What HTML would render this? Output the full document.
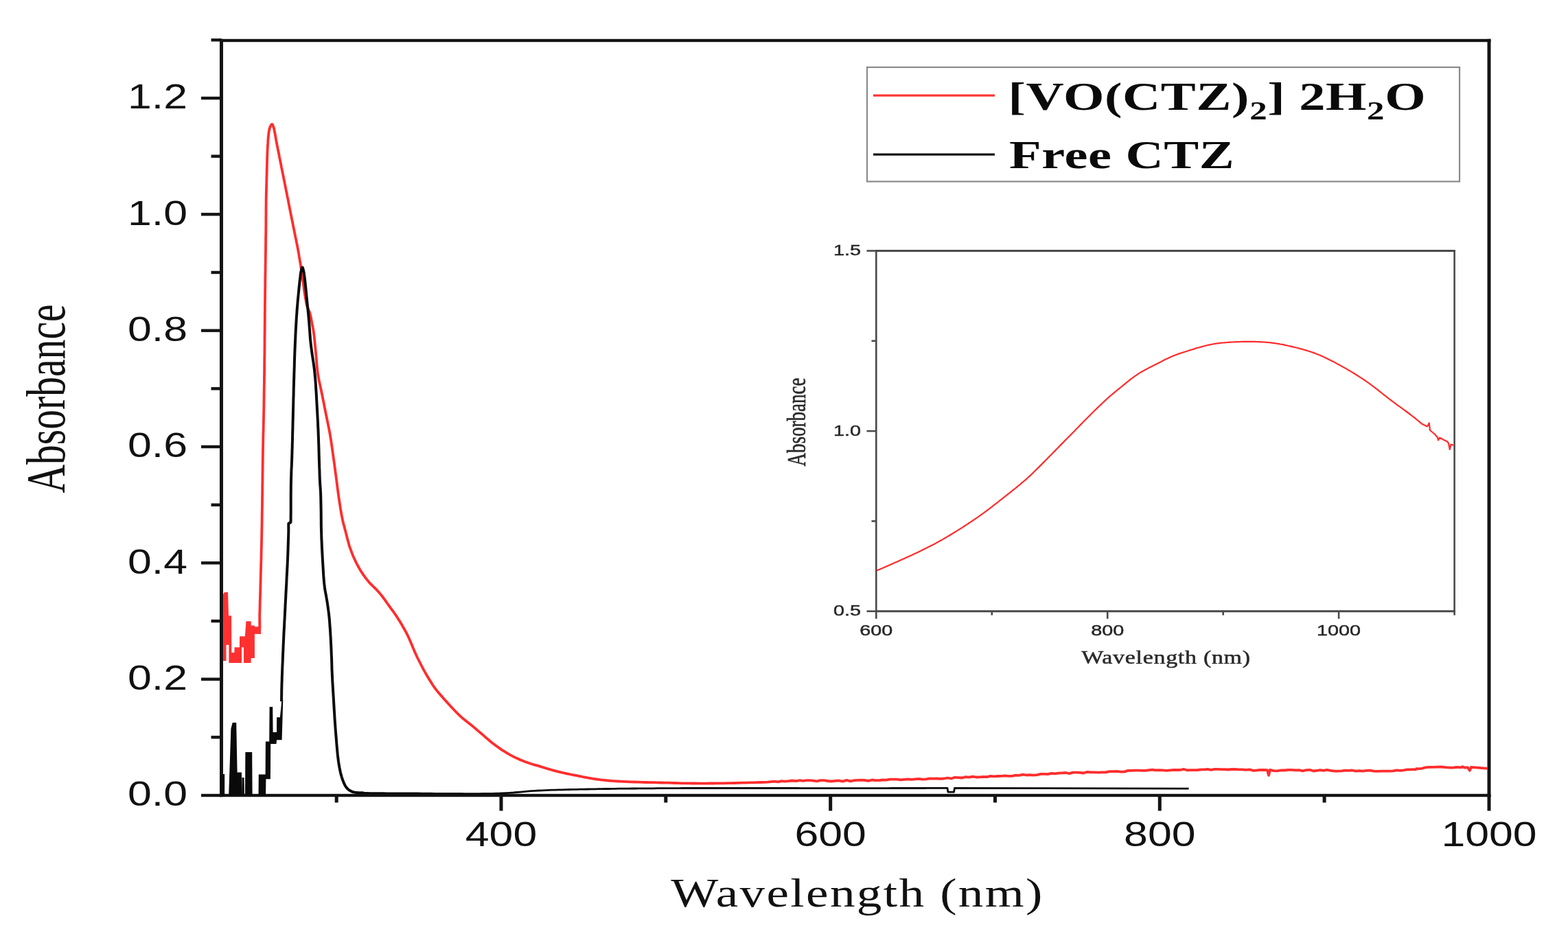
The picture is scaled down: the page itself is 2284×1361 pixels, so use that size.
<!DOCTYPE html>
<html><head><meta charset="utf-8"><title>UV-Vis absorbance spectra</title>
<style>html,body{margin:0;padding:0;background:#fff;}svg{display:block;}.sans{font-family:"Liberation Sans",Arial,sans-serif;}.serif{font-family:"Liberation Serif","Times New Roman",serif;}</style>
</head><body>
<svg width="2284" height="1361" viewBox="0 0 2284 1361">
<rect width="2284" height="1361" fill="#fff"/>
<g fill="#141414">
<rect x="320.0" y="56.8" width="1851.5" height="4.4"/>
<rect x="320.0" y="1156.8" width="1851.5" height="4.4"/>
<rect x="320.0" y="56.8" width="5" height="1104.4"/>
<rect x="2166.5" y="56.8" width="5" height="1104.4"/>
<rect x="293" y="1156.8" width="29.5" height="4.4"/>
<rect x="307.5" y="1072.1" width="15.0" height="4.4"/>
<rect x="293" y="987.5" width="29.5" height="4.4"/>
<rect x="307.5" y="902.8" width="15.0" height="4.4"/>
<rect x="293" y="818.1" width="29.5" height="4.4"/>
<rect x="307.5" y="733.5" width="15.0" height="4.4"/>
<rect x="293" y="648.8" width="29.5" height="4.4"/>
<rect x="307.5" y="564.1" width="15.0" height="4.4"/>
<rect x="293" y="479.5" width="29.5" height="4.4"/>
<rect x="307.5" y="394.8" width="15.0" height="4.4"/>
<rect x="293" y="310.1" width="29.5" height="4.4"/>
<rect x="307.5" y="225.5" width="15.0" height="4.4"/>
<rect x="293" y="140.8" width="29.5" height="4.4"/>
<rect x="307.5" y="56.1" width="15.0" height="4.4"/>
<rect x="487.7" y="1159.0" width="5" height="10.5"/>
<rect x="727.5" y="1159.0" width="5" height="22.5"/>
<rect x="967.3" y="1159.0" width="5" height="10.5"/>
<rect x="1207.2" y="1159.0" width="5" height="22.5"/>
<rect x="1447.0" y="1159.0" width="5" height="10.5"/>
<rect x="1686.8" y="1159.0" width="5" height="22.5"/>
<rect x="1926.6" y="1159.0" width="5" height="10.5"/>
<rect x="2166.5" y="1159.0" width="5" height="22.5"/>
</g>
<g class="sans" font-size="50.7" fill="#111">
<text transform="translate(273,1174.3) scale(1.235,1)" text-anchor="end">0.0</text>
<text transform="translate(273,1005.0) scale(1.235,1)" text-anchor="end">0.2</text>
<text transform="translate(273,835.6) scale(1.235,1)" text-anchor="end">0.4</text>
<text transform="translate(273,666.3) scale(1.235,1)" text-anchor="end">0.6</text>
<text transform="translate(273,497.0) scale(1.235,1)" text-anchor="end">0.8</text>
<text transform="translate(273,327.6) scale(1.235,1)" text-anchor="end">1.0</text>
<text transform="translate(273,158.3) scale(1.235,1)" text-anchor="end">1.2</text>
<text transform="translate(730.0,1232.8) scale(1.235,1)" text-anchor="middle">400</text>
<text transform="translate(1209.7,1232.8) scale(1.235,1)" text-anchor="middle">600</text>
<text transform="translate(1689.3,1232.8) scale(1.235,1)" text-anchor="middle">800</text>
<text transform="translate(2169.0,1232.8) scale(1.235,1)" text-anchor="middle">1000</text>
</g>
<text class="serif" font-size="60" fill="#111" transform="translate(1249,1321) scale(1.22,1)" text-anchor="middle" letter-spacing="1.94">Wavelength (nm)</text>
<text class="serif" font-size="57.6" fill="#111" transform="translate(93.8,581) rotate(-90) scale(1,1.38)" text-anchor="middle">Absorbance</text>
<polygon points="325.1,963.0 325.1,866.0 327.0,862.9 332.0,862.9 333.0,897.3 337.0,897.3 337.3,951.1 341.4,951.1 341.6,943.2 348.9,943.2 349.1,927.3 356.8,927.3 358.5,905.3 365.6,905.3 365.8,911.4 370.9,911.4 371.0,913.2 376.5,913.2 378.6,905.0 380.2,905.0 380.0,924.0 370.9,923.8 370.9,959.0 365.6,959.0 365.6,966.0 355.0,966.0 355.0,943.2 352.0,943.2 352.0,966.0 333.4,966.0 333.4,939.7 329.5,939.7 329.5,963.0" fill="#ff3030"/>
<polyline points="378.3,915.0 378.2,897.6 378.3,892.5 378.5,887.4 378.6,882.3 378.7,877.2 378.9,872.1 379.0,867.1 379.2,862.0 379.3,856.9 379.4,851.9 379.6,846.8 379.7,841.7 379.8,836.6 380.0,831.5 380.1,826.4 380.2,821.3 380.4,816.2 380.5,811.1 380.6,806.0 380.7,800.8 380.9,795.6 381.0,790.4 381.1,785.2 381.2,780.0 381.3,775.1 381.4,770.0 381.5,764.9 381.6,759.7 381.6,754.5 381.7,749.2 381.8,743.9 381.9,738.5 382.0,733.1 382.0,727.7 382.1,722.3 382.2,716.9 382.2,711.6 382.3,706.3 382.4,701.0 382.4,695.9 382.5,690.7 382.6,685.7 382.6,680.8 382.7,676.0 382.8,671.3 382.8,666.7 382.9,662.3 383.0,658.0 383.0,653.9 383.1,650.0 383.2,644.1 383.3,638.7 383.4,633.6 383.6,628.9 383.7,624.3 383.8,619.7 383.9,615.1 384.0,610.4 384.1,605.4 384.2,600.0 384.3,595.5 384.4,591.0 384.4,586.3 384.5,581.5 384.6,576.7 384.6,571.8 384.7,566.8 384.8,561.7 384.9,556.6 384.9,551.5 385.0,546.3 385.1,541.1 385.1,535.8 385.2,530.6 385.2,525.3 385.3,520.0 385.4,515.2 385.4,510.3 385.5,505.3 385.5,500.2 385.5,495.0 385.6,489.7 385.6,484.5 385.7,479.2 385.7,473.8 385.8,468.6 385.8,463.3 385.8,458.1 385.9,452.9 385.9,447.8 386.0,442.8 386.0,438.0 386.1,433.2 386.1,428.7 386.2,424.2 386.2,420.0 386.3,414.3 386.3,408.9 386.4,403.7 386.5,398.7 386.6,393.8 386.6,389.1 386.7,384.3 386.8,379.6 386.8,374.9 386.9,370.0 387.0,364.7 387.0,359.3 387.1,354.0 387.1,348.6 387.2,343.4 387.3,338.1 387.3,333.0 387.4,327.9 387.4,323.0 387.4,317.6 387.5,312.3 387.5,307.1 387.5,302.0 387.6,297.0 387.6,292.2 387.7,287.6 387.8,283.4 387.9,279.4 388.0,275.5 388.1,271.7 388.2,267.9 388.3,264.0 388.4,260.1 388.5,256.2 388.6,252.3 388.7,248.4 388.8,244.5 388.9,240.6 389.0,236.7 389.1,232.7 389.2,228.8 389.4,224.9 389.5,220.9 389.7,217.0 389.9,212.9 390.2,208.7 390.4,204.5 390.7,200.4 391.1,196.7 391.5,193.5 391.7,191.9 392.0,190.4 392.2,189.1 392.5,187.8 392.9,186.6 393.3,185.5 393.7,184.5 394.2,183.5 394.7,182.6 395.2,181.7 395.7,181.2 396.2,181.0 396.6,181.3 397.1,181.9 397.5,182.8 397.9,183.9 398.3,185.0 398.6,186.0 399.0,187.1 399.3,188.3 399.5,189.6 399.8,190.8 400.0,192.2 400.3,193.5 400.6,195.1 400.9,196.7 401.2,198.4 401.5,200.1 401.8,201.9 402.1,203.8 402.6,206.3 403.1,208.9 403.6,211.6 404.2,214.4 404.7,217.2 405.3,220.0 405.9,222.9 406.5,225.8 407.0,228.8 407.6,231.7 408.2,234.7 408.8,237.6 409.4,240.4 409.9,243.3 410.5,246.1 411.1,248.9 411.6,251.7 412.2,254.5 412.8,257.3 413.3,260.2 413.9,263.0 414.5,265.8 415.0,268.7 415.6,271.5 416.2,274.3 416.7,277.1 417.3,280.0 417.9,282.8 418.4,285.6 419.0,288.4 419.6,291.2 420.1,294.0 420.6,296.9 421.2,299.7 421.7,302.5 422.3,305.3 422.9,308.1 423.4,310.9 424.0,313.8 424.6,316.6 425.1,319.4 425.7,322.2 426.3,325.0 426.8,327.9 427.4,330.8 428.0,333.6 428.6,336.4 429.1,339.1 429.6,341.3 430.0,343.5 430.4,345.6 430.9,347.6 431.3,349.7 431.7,351.8 432.1,353.9 432.6,356.0 433.0,358.1 433.4,360.2 433.8,362.4 434.2,364.5 434.6,366.7 435.0,369.0 435.4,371.2 435.7,373.5 436.1,375.7 436.5,378.0 436.9,380.3 437.3,382.6 437.7,384.9 438.0,387.2 438.4,389.6 438.8,392.0 439.2,394.7 439.6,397.6 440.1,400.4 440.5,403.3 440.9,406.2 441.3,409.0 441.7,411.7 442.0,414.5 442.4,417.2 442.7,419.9 443.0,422.5 443.4,425.0 443.7,427.1 444.0,429.2 444.4,431.2 444.7,433.1 445.0,435.1 445.4,437.0 445.7,438.7 446.0,440.5 446.3,442.1 446.7,443.8 447.0,445.4 447.5,447.0 448.0,448.4 448.6,449.6 449.2,450.9 449.8,452.2 450.4,453.5 451.0,455.0 451.6,457.2 452.2,459.7 452.8,462.3 453.3,464.9 453.8,467.5 454.3,470.0 454.7,472.1 455.2,474.1 455.6,476.1 455.9,478.1 456.3,480.4 456.7,482.8 457.3,487.2 457.9,492.1 458.4,497.4 458.9,502.9 459.5,508.4 460.0,513.7 460.5,518.8 460.9,523.9 461.3,529.0 461.7,534.0 462.2,539.1 462.9,544.1 463.7,549.0 464.6,554.0 465.7,558.8 466.7,563.7 467.8,568.6 468.8,573.5 469.8,578.4 470.8,583.3 471.8,588.2 472.7,593.1 473.7,598.0 474.7,602.9 475.7,607.8 476.7,612.7 477.7,617.6 478.7,622.6 479.7,627.5 480.6,632.4 481.4,637.3 482.2,642.1 482.9,646.9 483.6,651.7 484.3,656.7 485.0,661.8 485.7,667.0 486.5,672.5 487.3,678.1 488.0,683.8 488.8,689.4 489.5,694.8 490.2,700.0 490.8,704.8 491.4,709.5 492.0,714.0 492.6,718.5 493.2,723.0 493.9,727.5 494.6,732.1 495.3,736.8 496.0,741.5 496.8,746.1 497.6,750.7 498.5,755.1 499.3,758.9 500.2,762.7 501.2,766.3 502.1,769.9 503.1,773.5 504.0,777.1 504.9,780.5 505.7,783.9 506.6,787.3 507.5,790.6 508.4,794.0 509.5,797.3 510.7,800.7 512.0,804.2 513.3,807.6 514.7,811.0 516.2,814.3 517.7,817.5 519.1,820.4 520.6,823.2 522.1,826.0 523.6,828.7 525.2,831.4 526.9,834.0 528.6,836.6 530.4,839.1 532.2,841.6 534.1,844.1 536.0,846.4 537.9,848.7 539.7,850.7 541.6,852.5 543.4,854.3 545.3,856.1 547.1,857.9 548.9,859.7 550.5,861.5 552.1,863.3 553.6,865.1 555.1,866.9 556.6,868.8 558.1,870.7 559.7,872.8 561.2,874.9 562.7,877.1 564.2,879.3 565.8,881.4 567.3,883.6 568.8,885.7 570.4,887.8 571.9,889.9 573.5,892.0 575.0,894.2 576.5,896.4 578.1,898.8 579.6,901.2 581.2,903.6 582.7,906.1 584.2,908.6 585.7,911.1 587.2,913.8 588.8,916.5 590.3,919.2 591.8,922.0 593.3,924.9 594.8,928.0 596.6,932.0 598.4,936.2 600.3,940.6 602.1,945.1 604.0,949.6 606.0,954.0 608.1,958.5 610.4,963.0 612.7,967.5 615.0,972.0 617.3,976.4 619.7,980.6 621.8,984.3 624.0,988.0 626.2,991.6 628.4,995.1 630.6,998.5 632.9,1001.8 635.0,1004.6 637.2,1007.4 639.4,1010.0 641.6,1012.6 643.9,1015.1 646.1,1017.7 648.3,1020.2 650.5,1022.6 652.7,1025.1 654.9,1027.5 657.1,1029.9 659.3,1032.2 661.5,1034.5 663.6,1036.7 665.8,1039.0 668.0,1041.2 670.3,1043.3 672.5,1045.4 674.7,1047.3 676.9,1049.0 679.1,1050.8 681.3,1052.5 683.6,1054.2 685.8,1056.0 688.1,1057.9 690.5,1059.9 692.8,1061.9 695.1,1063.9 697.5,1065.9 700.0,1068.0 702.8,1070.4 705.7,1072.9 708.6,1075.5 711.6,1078.0 714.5,1080.5 717.5,1082.9 720.4,1085.1 723.3,1087.2 726.2,1089.3 729.1,1091.4 732.0,1093.3 735.0,1095.2 737.9,1097.0 740.8,1098.7 743.7,1100.3 746.6,1101.9 749.5,1103.4 752.5,1104.8 755.4,1106.1 758.3,1107.4 761.2,1108.5 764.1,1109.7 767.1,1110.8 770.0,1111.8 772.9,1112.8 775.8,1113.7 778.8,1114.6 781.7,1115.4 784.7,1116.2 787.6,1117.1 790.5,1118.0 793.4,1118.9 796.3,1119.8 799.3,1120.6 802.2,1121.5 805.1,1122.3 808.0,1123.1 810.9,1123.9 813.8,1124.6 816.8,1125.3 819.7,1126.0 822.6,1126.7 825.5,1127.3 828.4,1127.9 831.3,1128.5 834.3,1129.1 837.2,1129.6 840.1,1130.2 843.0,1130.8 845.9,1131.4 848.8,1132.0 851.8,1132.6 854.7,1133.2 857.6,1133.7 860.5,1134.2 863.3,1134.7 866.1,1135.1 869.0,1135.5 872.0,1135.9 875.1,1136.3 878.9,1136.7 882.6,1137.1 886.5,1137.5 890.6,1137.9 895.1,1138.2 900.0,1138.5 904.2,1138.7 908.8,1138.9 913.7,1139.1 918.9,1139.3 924.4,1139.5 930.0,1139.7 935.7,1139.8 941.4,1140.0 947.0,1140.1 952.5,1140.2 957.8,1140.4 962.9,1140.5 967.6,1140.6 973.1,1140.7 978.3,1140.9 983.2,1141.0 988.0,1141.2 992.8,1141.3 997.6,1141.4 1002.5,1141.4 1007.6,1141.5 1012.7,1141.5 1017.8,1141.6 1022.9,1141.6 1028.1,1141.6 1033.4,1141.5 1038.7,1141.5 1044.1,1141.4 1049.5,1141.4 1055.0,1141.3 1060.0,1141.2 1065.2,1141.1 1070.4,1141.0 1075.7,1140.9 1081.0,1140.7 1086.3,1140.6 1091.7,1140.4 1097.0,1140.3 1102.3,1140.1 1107.5,1140.0 1112.7,1139.8 1118.0,1139.6 1123.2,1139.1 1128.2,1138.6 1133.3,1139.3 1138.3,1138.1 1143.4,1138.7 1148.6,1138.2 1153.9,1137.5 1159.5,1138.1 1165.2,1137.2 1169.9,1137.8 1174.8,1137.1 1179.7,1137.1 1184.7,1137.6 1189.8,1138.3 1195.0,1137.1 1200.3,1137.2 1205.7,1138.0 1211.1,1138.5 1216.5,1137.9 1222.0,1137.5 1227.6,1138.6 1233.1,1136.9 1238.7,1138.3 1244.4,1137.2 1250.0,1136.9 1254.9,1136.7 1259.9,1137.0 1264.9,1137.8 1270.0,1136.5 1275.1,1137.2 1280.3,1137.1 1285.5,1136.5 1290.7,1136.7 1296.0,1135.7 1301.2,1135.6 1306.5,1135.7 1311.8,1136.4 1317.2,1135.8 1322.5,1135.4 1327.8,1135.8 1333.1,1135.4 1338.4,1134.9 1343.7,1135.6 1349.0,1135.3 1354.3,1134.3 1359.5,1134.7 1364.7,1134.5 1369.9,1134.9 1375.1,1134.5 1380.4,1133.5 1385.6,1134.5 1390.8,1132.8 1396.0,1133.1 1401.2,1133.5 1406.4,1132.2 1411.6,1132.6 1416.9,1131.6 1422.1,1132.5 1427.3,1132.4 1432.5,1131.9 1437.7,1132.2 1442.9,1130.9 1448.1,1131.4 1453.4,1131.0 1458.6,1130.8 1463.8,1130.3 1469.0,1130.8 1474.2,1130.8 1479.4,1129.7 1484.6,1129.9 1489.8,1128.6 1495.1,1129.5 1500.3,1129.2 1505.5,1129.6 1510.7,1129.1 1515.9,1127.9 1521.1,1127.8 1526.3,1128.1 1531.5,1126.8 1536.7,1127.3 1541.9,1126.6 1547.1,1126.3 1552.4,1126.0 1557.6,1127.1 1562.8,1125.7 1568.0,1125.7 1573.2,1125.8 1578.4,1126.5 1583.6,1124.9 1588.9,1125.3 1594.3,1125.3 1599.7,1125.7 1605.1,1125.4 1610.6,1125.3 1616.0,1124.1 1621.5,1124.1 1626.9,1123.8 1632.3,1124.6 1637.7,1124.6 1643.1,1122.9 1648.4,1122.8 1653.6,1122.7 1658.8,1122.6 1663.9,1122.9 1668.9,1122.9 1673.8,1122.2 1678.6,1121.6 1683.3,1122.3 1687.8,1122.1 1693.6,1122.3 1699.0,1122.9 1704.3,1122.3 1709.3,1121.9 1714.3,1122.0 1719.1,1122.0 1724.0,1120.8 1728.9,1122.3 1733.9,1122.1 1739.1,1122.2 1744.4,1122.0 1750.0,1121.3 1754.6,1121.3 1759.2,1120.8 1764.0,1121.8 1768.8,1120.8 1773.8,1120.8 1778.8,1121.1 1783.8,1121.1 1789.0,1121.5 1794.1,1121.0 1799.3,1121.0 1804.5,1121.3 1809.7,1121.3 1815.0,1121.9 1820.2,1121.3 1825.4,1122.9 1830.6,1122.5 1835.8,1121.8 1840.9,1122.0 1846.0,1122.2 1848.0,1129.8 1850.0,1121.8 1855.2,1123.1 1860.4,1123.4 1865.7,1122.5 1871.0,1122.5 1876.3,1121.8 1881.7,1121.9 1887.0,1122.3 1892.3,1122.2 1897.5,1123.3 1902.8,1122.1 1907.9,1121.8 1913.1,1123.5 1918.1,1122.8 1923.1,1122.1 1927.9,1122.9 1932.7,1121.9 1938.3,1122.9 1943.8,1123.7 1949.1,1123.6 1954.3,1123.3 1959.5,1122.6 1964.6,1122.8 1969.7,1122.5 1974.8,1123.6 1979.9,1123.2 1985.1,1123.6 1990.5,1122.8 1995.6,1122.6 2000.9,1123.6 2006.4,1123.9 2012.1,1123.7 2017.8,1123.6 2023.5,1123.6 2029.1,1123.4 2034.5,1122.4 2039.7,1122.8 2044.5,1122.3 2048.9,1121.5 2052.7,1121.3 2056.0,1121.4 2058.4,1121.0 2060.2,1121.4 2061.8,1121.4 2063.4,1120.0 2065.2,1120.4 2067.5,1120.2 2071.2,1119.8 2075.9,1118.4 2081.2,1117.9 2087.0,1117.8 2093.2,1117.6 2099.4,1117.5 2105.6,1118.2 2111.4,1118.7 2116.8,1118.6 2121.6,1117.9 2125.4,1118.2 2128.0,1118.4 2130.3,1117.2 2132.3,1118.2 2134.1,1118.7 2136.0,1118.5 2138.0,1118.5 2140.8,1122.8 2143.0,1117.9 2167.0,1119.9" fill="none" stroke="#ff2d2d" stroke-width="3.8" stroke-linejoin="round" stroke-linecap="butt"/>
<polygon points="321.7,1159.0 321.7,1128.0 327.2,1128.0 327.2,1159.0" fill="#0a0a0a"/>
<polygon points="333.2,1159.0 336.4,1062.0 338.7,1053.0 344.2,1053.0 345.6,1125.5 352.0,1125.5 352.0,1159.0" fill="#0a0a0a"/>
<polygon points="352.0,1159.0 352.5,1133.0 355.5,1133.0 356.0,1159.0" fill="#0a0a0a"/>
<polygon points="357.0,1159.0 357.4,1096.0 367.2,1096.0 367.6,1159.0" fill="#0a0a0a"/>
<polygon points="376.5,1159.5 376.8,1128.4 386.6,1128.4 386.9,1080.6 392.2,1080.6 392.6,1030.0 397.2,1030.0 397.6,1067.0 403.0,1067.0 403.2,1045.3 407.8,1045.3 409.5,1030.0 410.3,1020.0 412.3,1020.0 410.6,1078.3 403.0,1078.3 402.5,1084.0 394.2,1084.0 393.9,1135.3 387.4,1135.3 387.1,1159.5" fill="#0a0a0a"/>
<polyline points="410.0,1022.0 410.1,1018.5 410.1,1015.1 410.2,1011.7 410.2,1008.1 410.3,1004.3 410.4,1000.0 410.5,995.8 410.7,991.2 410.8,986.3 411.0,981.1 411.2,975.7 411.4,970.2 411.7,964.5 411.9,958.8 412.1,953.1 412.4,947.5 412.6,942.0 412.8,937.1 413.1,932.1 413.3,927.1 413.5,922.0 413.8,916.9 414.1,911.8 414.3,906.7 414.6,901.6 414.9,896.4 415.1,891.3 415.4,886.2 415.6,881.1 415.9,876.0 416.2,870.9 416.4,865.6 416.7,860.3 417.0,855.0 417.3,849.7 417.5,844.3 417.8,839.1 418.1,833.9 418.3,828.8 418.6,823.8 418.8,819.0 419.0,814.4 419.2,810.0 419.4,804.4 419.6,799.2 419.7,794.2 419.9,789.4 420.0,784.7 420.2,779.9 420.3,775.0 420.3,763.0 423.4,761.0 423.6,758.0 423.6,752.7 423.7,747.3 423.7,741.9 423.7,736.4 423.7,731.0 423.7,725.5 423.7,720.2 423.8,714.9 423.8,709.8 423.9,704.8 424.0,700.0 424.2,694.2 424.3,688.7 424.5,683.5 424.8,678.3 425.0,673.1 425.2,667.6 425.4,661.8 425.5,656.9 425.7,651.9 425.8,646.7 426.0,641.3 426.1,635.9 426.2,630.4 426.4,624.8 426.5,619.3 426.6,613.8 426.8,608.3 426.9,602.9 427.0,597.5 427.2,592.1 427.3,586.6 427.4,581.2 427.6,575.7 427.7,570.3 427.8,564.9 428.0,559.5 428.1,554.3 428.3,549.1 428.4,544.1 428.6,538.2 428.8,532.5 428.9,526.8 429.1,521.3 429.3,515.8 429.5,510.4 429.7,505.2 429.9,500.0 430.2,494.2 430.4,488.6 430.7,483.1 431.0,477.7 431.3,472.3 431.6,467.0 431.9,462.0 432.3,457.1 432.6,452.2 433.0,447.3 433.4,442.5 433.8,437.6 434.3,432.6 434.8,427.4 435.3,422.2 435.8,417.1 436.3,412.4 436.8,408.2 437.1,405.6 437.4,403.2 437.6,400.9 437.9,398.8 438.2,396.8 438.6,395.0 438.9,393.8 439.2,392.6 439.5,391.4 439.8,390.4 440.1,389.8 440.4,389.5 440.7,389.8 441.0,390.4 441.3,391.4 441.6,392.6 441.9,393.8 442.2,395.0 442.6,396.8 442.9,398.8 443.2,400.9 443.5,403.2 443.8,405.6 444.1,408.2 444.6,412.4 445.1,417.1 445.6,422.2 446.1,427.4 446.6,432.6 447.1,437.6 447.6,442.5 448.1,447.3 448.6,452.2 449.1,457.1 449.5,462.0 450.0,467.0 450.4,472.3 450.8,477.7 451.2,483.1 451.6,488.6 452.0,494.2 452.6,500.0 453.2,505.2 453.9,510.6 454.7,516.1 455.5,521.6 456.4,527.3 457.2,532.9 457.9,538.5 458.5,544.1 459.0,549.6 459.5,555.1 459.9,560.6 460.2,566.1 460.6,571.7 460.9,577.2 461.2,582.7 461.5,588.2 461.8,593.7 462.1,599.2 462.4,604.8 462.7,610.3 463.0,615.8 463.2,621.4 463.5,626.9 463.7,632.4 463.9,638.0 464.1,643.8 464.3,649.5 464.5,655.3 464.6,661.0 464.8,666.4 464.9,671.6 465.1,676.5 465.2,680.9 465.4,684.9 465.5,688.8 465.6,692.5 465.7,696.2 465.9,700.0 466.1,703.6 466.3,707.0 466.6,710.4 466.8,713.9 467.0,717.7 467.2,722.0 467.3,726.3 467.4,731.0 467.5,736.0 467.6,741.4 467.7,746.9 467.7,752.6 467.8,758.3 467.8,764.0 467.9,769.6 468.1,774.9 468.2,780.0 468.4,785.9 468.7,791.6 468.9,797.3 469.2,802.9 469.5,808.4 469.8,813.8 470.1,819.0 470.4,824.0 470.7,829.3 471.0,834.4 471.3,839.4 471.7,844.2 472.1,848.9 472.6,853.5 473.1,857.4 473.7,861.1 474.4,864.8 475.1,868.4 475.7,872.0 476.3,875.6 476.9,879.2 477.4,882.8 477.9,886.4 478.4,890.0 478.9,893.7 479.3,897.6 479.8,902.2 480.2,907.1 480.5,912.0 480.9,917.0 481.2,922.0 481.5,927.0 481.8,932.0 482.0,937.0 482.3,942.0 482.5,946.9 482.7,951.8 482.9,956.5 483.1,960.5 483.2,964.5 483.3,968.3 483.4,972.1 483.5,976.0 483.7,980.0 483.9,984.4 484.1,988.7 484.3,993.1 484.6,997.7 484.9,1002.6 485.2,1008.0 485.5,1012.5 485.8,1017.3 486.1,1022.5 486.4,1027.9 486.7,1033.5 487.1,1039.2 487.4,1045.0 487.8,1050.7 488.2,1056.3 488.6,1061.8 489.0,1067.1 489.4,1072.0 489.9,1077.8 490.3,1083.4 490.8,1089.0 491.3,1094.4 491.8,1099.7 492.4,1104.7 493.0,1109.5 493.7,1114.0 494.4,1118.2 495.2,1122.1 496.0,1125.9 496.9,1129.4 497.9,1132.8 499.0,1136.0 499.9,1138.4 500.8,1140.7 501.8,1142.9 502.9,1145.0 504.1,1146.8 505.4,1148.5 506.6,1149.7 507.9,1150.8 509.3,1151.8 510.8,1152.6 512.3,1153.4 514.0,1154.0 516.3,1154.6 518.9,1154.9 521.6,1155.1 524.5,1155.2 527.3,1155.3 530.0,1155.5" fill="none" stroke="#0a0a0a" stroke-width="4" stroke-linejoin="round" stroke-linecap="butt"/>
<polyline points="530.0,1155.5 534.9,1155.5 539.8,1155.6 544.6,1155.6 549.4,1155.7 554.1,1155.7 558.9,1155.7 563.7,1155.8 568.5,1155.8 573.4,1155.9 578.4,1155.9 583.6,1155.9 588.9,1156.0 594.3,1156.0 600.0,1156.0 604.3,1156.0 608.8,1156.0 613.5,1156.1 618.4,1156.1 623.3,1156.2 628.4,1156.2 633.6,1156.3 638.9,1156.3 644.2,1156.4 649.6,1156.4 655.1,1156.4 660.5,1156.5 666.0,1156.5 671.4,1156.5 676.9,1156.6 682.2,1156.6 687.6,1156.6 692.8,1156.6 697.9,1156.6 703.0,1156.5 707.9,1156.5 712.7,1156.4 717.3,1156.3 721.7,1156.2 726.0,1156.1 730.0,1156.0 736.4,1155.7 742.2,1155.4 747.7,1155.0 752.9,1154.5 758.0,1154.1 763.0,1153.6 768.0,1153.2 773.2,1152.7 778.7,1152.3 784.6,1152.0 789.2,1151.8 793.9,1151.6 798.7,1151.4 803.5,1151.2 808.5,1151.1 813.5,1150.9 818.6,1150.8 823.8,1150.6 829.0,1150.5 834.3,1150.4 839.6,1150.3 844.9,1150.2 850.3,1150.1 855.7,1150.0 861.1,1149.9 866.6,1149.8 872.0,1149.7 876.9,1149.6 881.8,1149.5 886.6,1149.5 891.4,1149.4 896.2,1149.3 901.0,1149.2 905.8,1149.2 910.7,1149.1 915.6,1149.1 920.5,1149.0 925.5,1149.0 930.6,1148.9 935.8,1148.9 941.0,1148.8 946.4,1148.8 951.9,1148.8 957.5,1148.7 963.3,1148.7 969.2,1148.7 975.3,1148.6 981.6,1148.6 985.6,1148.6 989.7,1148.6 994.0,1148.5 998.3,1148.5 1002.7,1148.5 1007.3,1148.5 1011.9,1148.5 1016.6,1148.5 1021.4,1148.5 1026.3,1148.5 1031.2,1148.5 1036.3,1148.5 1041.4,1148.5 1046.5,1148.5 1051.7,1148.5 1057.0,1148.5 1062.3,1148.5 1067.7,1148.5 1073.1,1148.5 1078.5,1148.5 1084.0,1148.5 1089.5,1148.5 1095.0,1148.5 1100.5,1148.5 1106.1,1148.5 1111.6,1148.5 1117.2,1148.5 1122.8,1148.5 1128.4,1148.5 1133.9,1148.5 1139.5,1148.5 1145.0,1148.5 1150.5,1148.5 1156.0,1148.5 1161.5,1148.5 1166.9,1148.6 1172.3,1148.6 1177.6,1148.6 1182.9,1148.6 1188.2,1148.6 1193.4,1148.6 1198.5,1148.6 1203.6,1148.6 1208.6,1148.6 1213.6,1148.6 1218.4,1148.6 1223.2,1148.6 1227.9,1148.6 1232.5,1148.6 1237.1,1148.6 1241.5,1148.6 1245.8,1148.6 1250.0,1148.6 1255.8,1148.6 1261.5,1148.6 1267.1,1148.6 1272.6,1148.6 1277.9,1148.6 1283.2,1148.6 1288.4,1148.6 1293.4,1148.6 1298.4,1148.5 1303.4,1148.5 1308.3,1148.5 1313.1,1148.5 1317.9,1148.5 1322.7,1148.5 1327.4,1148.5 1332.1,1148.5 1336.8,1148.5 1341.5,1148.5 1346.2,1148.5 1351.0,1148.4 1355.7,1148.4 1360.5,1148.4 1365.3,1148.4 1370.1,1148.4 1375.0,1148.4 1380.0,1148.4 1381.0,1154.2 1389.5,1154.2 1390.5,1148.4 1731.6,1149.2" fill="none" stroke="#0a0a0a" stroke-width="2.8" stroke-linejoin="round" stroke-linecap="butt"/>
<rect x="1263" y="98" width="863" height="166.5" fill="none" stroke="#8a8a8a" stroke-width="2.2"/>
<rect x="1272" y="137.5" width="177" height="3.2" fill="#ff3535"/>
<rect x="1272" y="223.5" width="177" height="3.2" fill="#111"/>
<g class="serif" font-weight="bold" font-size="57" fill="#0a0a0a" letter-spacing="0.5">
<text transform="translate(1468.5,160) scale(1.34,1)">[VO(CTZ)<tspan font-size="38" dy="14">2</tspan><tspan dy="-14">] 2H</tspan><tspan font-size="38" dy="14">2</tspan><tspan dy="-14">O</tspan></text>
<text transform="translate(1470,245) scale(1.34,1)">Free CTZ</text>
</g>
<g fill="#4a4a4a">
<rect x="1275.0" y="364.0" width="844.9" height="3"/>
<rect x="1275.0" y="889.2" width="844.9" height="3"/>
<rect x="1275.0" y="364.0" width="2.6" height="528.2"/>
<rect x="2117.2999999999997" y="364.0" width="2.6" height="528.2"/>
<rect x="1262.5" y="889.4" width="13.799999999999955" height="2.6"/>
<rect x="1269.5" y="758.1" width="6.7999999999999545" height="2.6"/>
<rect x="1262.5" y="626.8" width="13.799999999999955" height="2.6"/>
<rect x="1269.5" y="495.5" width="6.7999999999999545" height="2.6"/>
<rect x="1262.5" y="364.2" width="13.799999999999955" height="2.6"/>
<rect x="1275.0" y="890.7" width="2.6" height="11.0"/>
<rect x="1443.5" y="890.7" width="2.6" height="5.7999999999999545"/>
<rect x="1611.9" y="890.7" width="2.6" height="11.0"/>
<rect x="1780.4" y="890.7" width="2.6" height="5.7999999999999545"/>
<rect x="1948.8" y="890.7" width="2.6" height="11.0"/>
<rect x="2117.3" y="890.7" width="2.6" height="5.7999999999999545"/>
</g>
<g class="sans" font-size="21.5" fill="#262626" stroke="#262626" stroke-width="0.45">
<text transform="translate(1254,897.2) scale(1.34,1)" text-anchor="end">0.5</text>
<text transform="translate(1254,634.6) scale(1.34,1)" text-anchor="end">1.0</text>
<text transform="translate(1254,372.0) scale(1.34,1)" text-anchor="end">1.5</text>
<text transform="translate(1276.3,925.8) scale(1.34,1)" text-anchor="middle">600</text>
<text transform="translate(1613.2,925.8) scale(1.34,1)" text-anchor="middle">800</text>
<text transform="translate(1950.1,925.8) scale(1.34,1)" text-anchor="middle">1000</text>
</g>
<text class="serif" font-size="27" fill="#2a2a2a" stroke="#2a2a2a" stroke-width="0.5" transform="translate(1698.5,966.8) scale(1.26,1)" text-anchor="middle" letter-spacing="0.55">Wavelength (nm)</text>
<text class="serif" font-size="27" fill="#2a2a2a" stroke="#2a2a2a" stroke-width="0.45" transform="translate(1173,615) rotate(-90) scale(1,1.42)" text-anchor="middle">Absorbance</text>
<polyline points="1277.0,831.5 1279.0,830.6 1281.0,829.8 1283.0,828.9 1285.0,828.0 1287.0,827.2 1289.0,826.3 1291.0,825.4 1293.0,824.5 1295.0,823.7 1297.0,822.8 1299.0,821.9 1301.0,821.0 1303.0,820.1 1305.0,819.3 1307.0,818.4 1309.0,817.5 1311.0,816.6 1313.0,815.7 1315.0,814.8 1317.0,813.9 1319.0,813.0 1321.0,812.1 1323.0,811.2 1325.0,810.3 1327.0,809.4 1329.0,808.5 1331.0,807.5 1333.0,806.6 1335.0,805.7 1337.0,804.7 1339.0,803.7 1341.0,802.8 1343.0,801.8 1345.0,800.8 1347.0,799.8 1349.0,798.8 1351.0,797.8 1353.0,796.8 1355.0,795.8 1357.0,794.8 1359.0,793.7 1361.0,792.7 1363.0,791.6 1365.0,790.5 1367.0,789.4 1369.0,788.3 1371.0,787.2 1373.0,786.1 1375.0,784.9 1377.0,783.7 1379.0,782.6 1381.0,781.4 1383.0,780.2 1385.0,779.0 1387.0,777.8 1389.0,776.5 1391.0,775.3 1393.0,774.1 1395.0,772.9 1397.0,771.6 1399.0,770.3 1401.0,769.1 1403.0,767.8 1405.0,766.5 1407.0,765.2 1409.0,763.9 1411.0,762.5 1413.0,761.2 1415.0,759.9 1417.0,758.5 1419.0,757.2 1421.0,755.8 1423.0,754.4 1425.0,753.1 1427.0,751.7 1429.0,750.2 1431.0,748.8 1433.0,747.4 1435.0,745.9 1437.0,744.4 1439.0,742.9 1441.0,741.4 1443.0,739.8 1445.0,738.3 1447.0,736.7 1449.0,735.2 1451.0,733.6 1453.0,732.1 1455.0,730.5 1457.0,728.9 1459.0,727.4 1461.0,725.8 1463.0,724.2 1465.0,722.6 1467.0,721.0 1469.0,719.5 1471.0,717.9 1473.0,716.3 1475.0,714.7 1477.0,713.1 1479.0,711.5 1481.0,709.8 1483.0,708.2 1485.0,706.6 1487.0,704.9 1489.0,703.2 1491.0,701.5 1493.0,699.8 1495.0,698.1 1497.0,696.3 1499.0,694.4 1501.0,692.6 1503.0,690.7 1505.0,688.7 1507.0,686.8 1509.0,684.8 1511.0,682.9 1513.0,680.9 1515.0,678.9 1517.0,676.9 1519.0,674.9 1521.0,672.9 1523.0,670.8 1525.0,668.8 1527.0,666.8 1529.0,664.7 1531.0,662.7 1533.0,660.7 1535.0,658.6 1537.0,656.6 1539.0,654.5 1541.0,652.5 1543.0,650.4 1545.0,648.4 1547.0,646.4 1549.0,644.4 1551.0,642.3 1553.0,640.3 1555.0,638.3 1557.0,636.3 1559.0,634.3 1561.0,632.2 1563.0,630.2 1565.0,628.2 1567.0,626.1 1569.0,624.0 1571.0,622.0 1573.0,619.9 1575.0,617.9 1577.0,615.8 1579.0,613.8 1581.0,611.7 1583.0,609.7 1585.0,607.7 1587.0,605.7 1589.0,603.7 1591.0,601.7 1593.0,599.8 1595.0,597.8 1597.0,595.9 1599.0,593.9 1601.0,592.0 1603.0,590.1 1605.0,588.2 1607.0,586.3 1609.0,584.4 1611.0,582.5 1613.0,580.7 1615.0,578.9 1617.0,577.2 1619.0,575.5 1621.0,573.8 1623.0,572.1 1625.0,570.4 1627.0,568.8 1629.0,567.2 1631.0,565.6 1633.0,564.0 1635.0,562.3 1637.0,560.7 1639.0,559.1 1641.0,557.4 1643.0,555.8 1645.0,554.2 1647.0,552.6 1649.0,551.1 1651.0,549.6 1653.0,548.1 1655.0,546.8 1657.0,545.4 1659.0,544.1 1661.0,542.9 1663.0,541.7 1665.0,540.6 1667.0,539.5 1669.0,538.4 1671.0,537.4 1673.0,536.3 1675.0,535.3 1677.0,534.3 1679.0,533.3 1681.0,532.3 1683.0,531.2 1685.0,530.2 1687.0,529.2 1689.0,528.2 1691.0,527.2 1693.0,526.1 1695.0,525.1 1697.0,524.1 1699.0,523.1 1701.0,522.2 1703.0,521.2 1705.0,520.3 1707.0,519.5 1709.0,518.6 1711.0,517.8 1713.0,517.1 1715.0,516.3 1717.0,515.6 1719.0,514.9 1721.0,514.3 1723.0,513.6 1725.0,513.0 1727.0,512.3 1729.0,511.7 1731.0,511.0 1733.0,510.4 1735.0,509.8 1737.0,509.2 1739.0,508.6 1741.0,507.9 1743.0,507.3 1745.0,506.8 1747.0,506.2 1749.0,505.6 1751.0,505.1 1753.0,504.5 1755.0,504.0 1757.0,503.5 1759.0,503.0 1761.0,502.6 1763.0,502.2 1765.0,501.7 1767.0,501.4 1769.0,501.0 1771.0,500.7 1773.0,500.4 1775.0,500.2 1777.0,499.9 1779.0,499.7 1781.0,499.5 1783.0,499.3 1785.0,499.2 1787.0,499.0 1789.0,498.9 1791.0,498.7 1793.0,498.6 1795.0,498.5 1797.0,498.4 1799.0,498.3 1801.0,498.2 1803.0,498.1 1805.0,498.1 1807.0,498.0 1809.0,497.9 1811.0,497.9 1813.0,497.8 1815.0,497.8 1817.0,497.8 1819.0,497.8 1821.0,497.8 1823.0,497.8 1825.0,497.8 1827.0,497.9 1829.0,497.9 1831.0,498.0 1833.0,498.1 1835.0,498.2 1837.0,498.3 1839.0,498.4 1841.0,498.5 1843.0,498.7 1845.0,498.8 1847.0,499.0 1849.0,499.2 1851.0,499.4 1853.0,499.7 1855.0,499.9 1857.0,500.2 1859.0,500.5 1861.0,500.8 1863.0,501.1 1865.0,501.5 1867.0,501.8 1869.0,502.2 1871.0,502.6 1873.0,503.1 1875.0,503.5 1877.0,504.0 1879.0,504.4 1881.0,504.9 1883.0,505.4 1885.0,505.8 1887.0,506.3 1889.0,506.8 1891.0,507.3 1893.0,507.9 1895.0,508.4 1897.0,508.9 1899.0,509.5 1901.0,510.1 1903.0,510.6 1905.0,511.3 1907.0,511.9 1909.0,512.5 1911.0,513.2 1913.0,513.9 1915.0,514.6 1917.0,515.4 1919.0,516.2 1921.0,517.0 1923.0,517.8 1925.0,518.7 1927.0,519.6 1929.0,520.5 1931.0,521.4 1933.0,522.4 1935.0,523.4 1937.0,524.4 1939.0,525.4 1941.0,526.4 1943.0,527.4 1945.0,528.5 1947.0,529.6 1949.0,530.7 1951.0,531.8 1953.0,532.9 1955.0,534.0 1957.0,535.1 1959.0,536.3 1961.0,537.4 1963.0,538.6 1965.0,539.7 1967.0,540.9 1969.0,542.1 1971.0,543.3 1973.0,544.5 1975.0,545.8 1977.0,547.0 1979.0,548.3 1981.0,549.6 1983.0,550.9 1985.0,552.2 1987.0,553.5 1989.0,554.9 1991.0,556.3 1993.0,557.7 1995.0,559.1 1997.0,560.6 1999.0,562.1 2001.0,563.6 2003.0,565.1 2005.0,566.7 2007.0,568.2 2009.0,569.8 2011.0,571.4 2013.0,573.0 2015.0,574.6 2017.0,576.2 2019.0,577.7 2021.0,579.3 2023.0,580.8 2025.0,582.3 2027.0,583.9 2029.0,585.4 2031.0,586.8 2033.0,588.3 2035.0,589.8 2037.0,591.3 2039.0,592.7 2041.0,594.2 2043.0,595.6 2045.0,597.1 2047.0,598.5 2049.0,600.0 2051.0,601.5 2053.0,603.0 2055.0,604.5 2057.0,606.1 2059.0,607.6 2061.0,609.2 2063.0,610.8 2065.0,612.5 2067.0,614.1 2069.0,615.8 2071.0,617.5 2071.4,617.8 2079.0,621.5 2081.7,616.5 2083.0,627.0 2089.8,632.5 2094.0,637.5 2095.0,641.5 2097.1,637.6 2103.0,641.0 2108.2,643.5 2110.0,646.0 2111.8,655.0 2113.5,647.5 2117.5,649.0" fill="none" stroke="#ff2b2b" stroke-width="2.2" stroke-linejoin="round"/>
</svg>
</body></html>
